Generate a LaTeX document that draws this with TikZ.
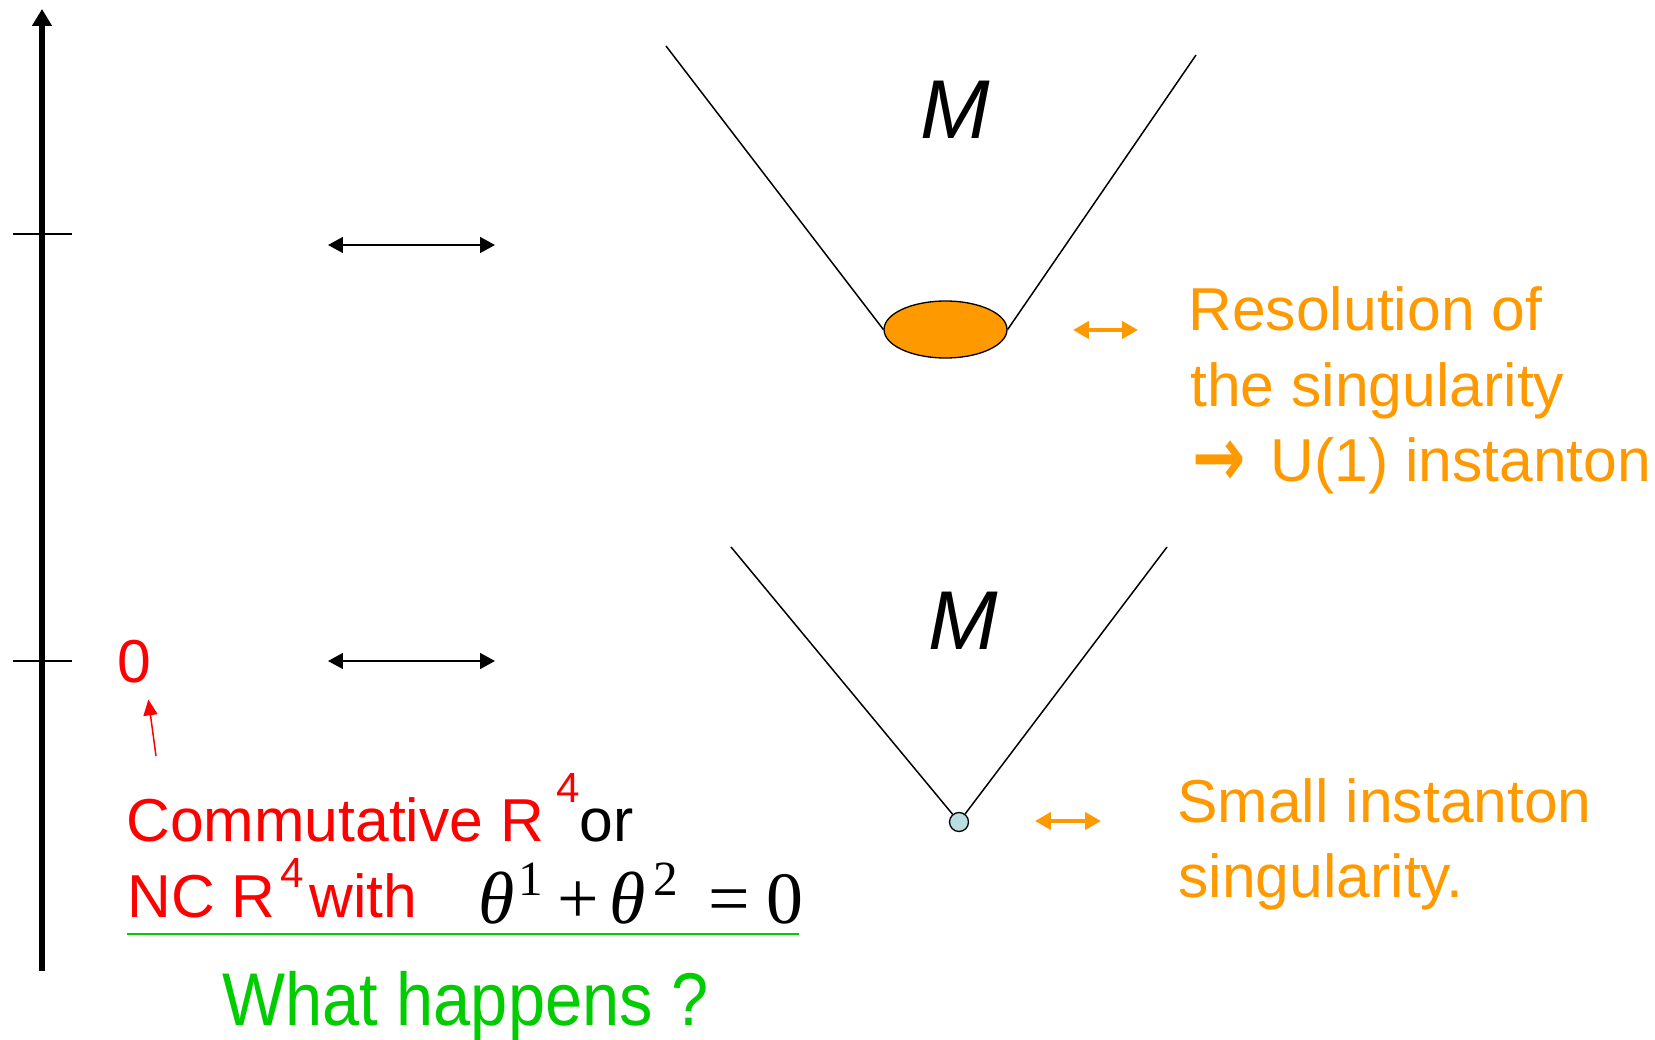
\documentclass[tikz,border=0pt]{standalone}
\usepackage{fontspec}
\setmainfont{Liberation Sans}
\newfontfamily\timesf{Liberation Serif}
\newfontfamily\dejavu{DejaVu Sans}
\usepackage{graphicx}
\usepackage{xcolor}
\usepackage{tikz}
\usetikzlibrary{arrows.meta, shapes.geometric, positioning}

\definecolor{ncorange}{RGB}{255,153,0}
\definecolor{ncred}{RGB}{255,0,0}
\definecolor{ncgreen}{RGB}{0,204,0}
\definecolor{dotblue}{RGB}{185,222,226}

\newcommand{\supfour}[1]{\raisebox{#1}{\fontsize{24}{24}\selectfont 4}}
\newcommand{\supmath}[1]{\raisebox{15.5pt}{\fontsize{28}{28}\selectfont #1}}

\begin{document}
\begin{tikzpicture}[x=0.02cm, y=-0.02cm,
    taxis/.style={line width=3.4pt, -{Triangle[length=9.6pt, width=10.8pt]}},
    tickmark/.style={line width=0.75pt},
    corr/.style={line width=1.1pt, {Triangle[length=8.5pt, width=9pt]}-{Triangle[length=8.5pt, width=9pt]}},
    reso/.style={draw=ncorange, line width=2.8pt, {Triangle[length=9pt, width=9.6pt]}-{Triangle[length=9pt, width=9.6pt]}},
    cone/.style={line width=0.85pt},
    txt/.style={inner sep=0pt, anchor=base west, font=\fontsize{34.5}{40}\selectfont},
    mlab/.style={inner sep=0pt, font=\fontsize{47.5}{47.5}\selectfont\itshape}]
    \useasboundingbox (0,0) rectangle (1655,1040);

    % Trục đứng và hai vạch chia
    \coordinate (axbot) at (42,971);
    \coordinate (axtop) at (42,9);
    \draw[taxis] (axbot) -- (axtop);
    \coordinate (t1l) at (13,234);
    \coordinate (t1r) at (72,234);
    \coordinate (t0l) at (13,661);
    \coordinate (t0r) at (72,661);
    \draw[tickmark] (t1l) -- (t1r);
    \draw[tickmark] (t0l) -- (t0r);

    % Mũi tên tương ứng
    \coordinate (a1l) at (328,245);
    \coordinate (a1r) at (495,245);
    \coordinate (a0l) at (328,661);
    \coordinate (a0r) at (495,661);
    \draw[corr] (a1l) -- (a1r);
    \draw[corr] (a0l) -- (a0r);

    % Nón trên: kỳ dị được giải
    \node[mlab] (mup) at (955,110) {M};
    \node[ellipse, draw, line width=0.75pt, fill=ncorange, minimum width=2.46cm,
          minimum height=1.14cm, inner sep=0pt] (blob) at (945.5,329.5) {};
    \coordinate (ctl) at (666,46);
    \coordinate (ctr) at (1196,55);
    \draw[cone] (ctl) -- (blob.west);
    \draw[cone] (ctr) -- (blob.east);
    \coordinate (r1l) at (1073,330);
    \coordinate (r1r) at (1138,330);
    \draw[reso] (r1l) -- (r1r);
    \node[txt, text=ncorange] (res1) at (1188,331) {Resolution of};
    \node[txt, text=ncorange] (res2) at (1190,406) {the singularity};
    \node[txt, text=ncorange] (res3) at (1192,481)
        {\raisebox{-3pt}{\scalebox{1.05}[1.4]{\dejavu\bfseries →}}\hspace{4.5pt} U(1) instanton};

    % Nón dưới: kỳ dị nhỏ
    \node[mlab] (mdown) at (963,621) {M};
    \node[circle, draw, line width=0.75pt, fill=dotblue, minimum size=0.38cm,
          inner sep=0pt] (dot) at (959,822) {};
    \coordinate (cbl) at (731,547);
    \coordinate (cbr) at (1167,547);
    \draw[cone] (cbl) -- (dot);
    \draw[cone] (cbr) -- (dot);
    \coordinate (r0l) at (1035,821);
    \coordinate (r0r) at (1101,821);
    \draw[reso] (r0l) -- (r0r);
    \node[txt, text=ncorange] (small1) at (1177,822) {Small instanton};
    \node[txt, text=ncorange] (small2) at (1178,897) {singularity.};

    % Nhãn bên trái
    \node[txt, text=ncred] (zero) at (117,682) {0};
    \coordinate (ptrtail) at (156,756);
    \draw[ncred, line width=0.85pt, -{Triangle[length=9pt, width=8pt]}, shorten >=9.5pt]
        (ptrtail) -- ([xshift=-3pt]zero.south east);
    \node[txt, text=ncred] (comm) at (126,841) {Commutative R\hspace{7pt}\supfour{22pt}{\color{black}or}};
    \node[txt, text=ncred] (ncr) at (127,917) {NC R\hspace{3pt}\supfour{17pt}\hspace{3pt}with};
    \node[txt, font=\timesf\fontsize{42}{42}\selectfont] (thetas) at (478,923)
        {\textit{θ}\hspace{2pt}\supmath{1}\hspace{8.5pt}+\hspace{6pt}\textit{θ}\hspace{4.5pt}\supmath{2}\hspace{17pt}=\hspace{9.5pt}0};
    \coordinate (gl) at (127,934);
    \coordinate (gr) at (799,934);
    \draw[ncgreen, line width=1.2pt] (gl) -- (gr);
    \node[inner sep=0pt, anchor=base, text=ncgreen, font=\fontsize{38}{38}\selectfont] (what)
        at (465.5,1025) {\scalebox{1}[1.12]{What happens ?}};
\end{tikzpicture}
\end{document}
